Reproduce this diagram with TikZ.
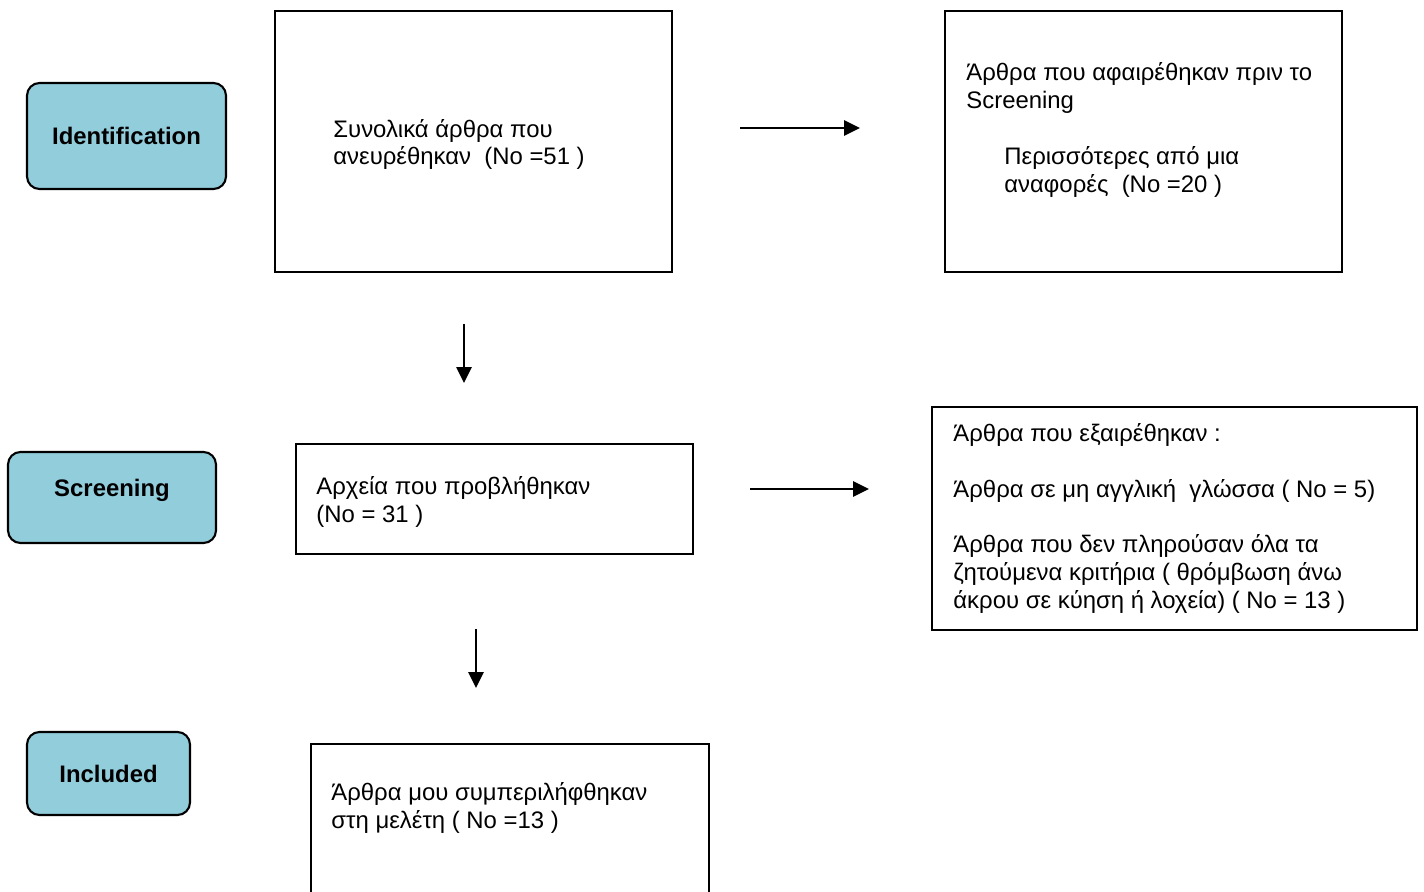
\documentclass[tikz,border=0pt]{standalone}
\usepackage{fontspec}
\setmainfont{Liberation Sans}
\usetikzlibrary{arrows.meta}
\definecolor{stageblue}{HTML}{92CDDC}
\tikzset{
  stage/.style={draw, line width=1.2pt, rounded corners=0.25cm, fill=stageblue,
    font=\bfseries\fontsize{13.6}{15.9}\selectfont},
  box/.style={draw, line width=1.1pt},
  txt/.style={inner sep=0pt, align=left, font=\fontsize{13.6}{15.9}\selectfont},
  flow/.style={line width=1.5pt, -{Triangle[length=0.32cm,width=0.3cm]}}
}
\begin{document}
\begin{tikzpicture}[x=0.02cm, y=-0.02cm]
        \useasboundingbox (0,0) rectangle (1424,892);
        % 阶段
        \node[stage, minimum width=3.98cm, minimum height=2.12cm] (ident) at (126.5,136) {Identification};
        \node[stage, minimum width=4.16cm, minimum height=1.82cm, text depth=0.38cm] (screen) at (112,497.5) {Screening};
        \node[stage, minimum width=3.26cm, minimum height=1.66cm] (incl) at (108.5,773.5) {Included};
        % 方框
        \node[box, minimum width=7.94cm, minimum height=5.22cm] (found) at (473.5,141.5) {};
        \node[box, minimum width=7.94cm, minimum height=5.22cm] (removed) at (1143.5,141.5) {};
        \node[box, minimum width=7.94cm, minimum height=2.2cm] (screened) at (494.5,499) {};
        \node[box, minimum width=9.7cm, minimum height=4.46cm] (excluded) at (1174.5,518.5) {};
        \node[box, minimum width=7.96cm, minimum height=3.4cm, anchor=north] (included) at (510,743) {};
        % 文字
        \node[txt, anchor=west] (found-t) at ([xshift=1.18cm, yshift=-0.06cm]found.west)
            {Συνολικά άρθρα που\\ανευρέθηκαν~ (No =51 )};
        \node[txt, anchor=north west] (removed-t) at ([xshift=0.44cm, yshift=-1.04cm]removed.north west)
            {Άρθρα που αφαιρέθηκαν πριν το\\Screening\\[15.9pt]
             \hspace*{0.76cm}Περισσότερες από μια\\\hspace*{0.76cm}αναφορές~ (No =20 )};
        \node[txt, anchor=west] (screened-t) at ([xshift=0.42cm, yshift=-0.06cm]screened.west)
            {Αρχεία που προβλήθηκαν\\(No = 31 )};
        \node[txt, anchor=west] (excluded-t) at ([xshift=0.44cm]excluded.west)
            {Άρθρα που εξαιρέθηκαν :\\[15.9pt]
             Άρθρα σε μη αγγλική~ γλώσσα ( No = 5)\\[15.9pt]
             Άρθρα που δεν πληρούσαν όλα τα\\ζητούμενα κριτήρια ( θρόμβωση άνω\\
             άκρου σε κύηση ή λοχεία) ( No = 13 )};
        \node[txt, anchor=north west] (included-t) at ([xshift=0.42cm, yshift=-0.78cm]included.north west)
            {Άρθρα μου συμπεριλήφθηκαν\\στη μελέτη ( No =13 )};
        % 箭头
        \coordinate (r1s) at (740,128);  \coordinate (r1e) at (860,128);
        \coordinate (d1s) at (464,324);  \coordinate (d1e) at (464,383);
        \coordinate (r2s) at (750,489);  \coordinate (r2e) at (869,489);
        \coordinate (d2s) at (476,629);  \coordinate (d2e) at (476,688);
        \draw[flow] (r1s) -- (r1e);
        \draw[flow] (d1s) -- (d1e);
        \draw[flow] (r2s) -- (r2e);
        \draw[flow] (d2s) -- (d2e);
    \end{tikzpicture}
\end{document}
